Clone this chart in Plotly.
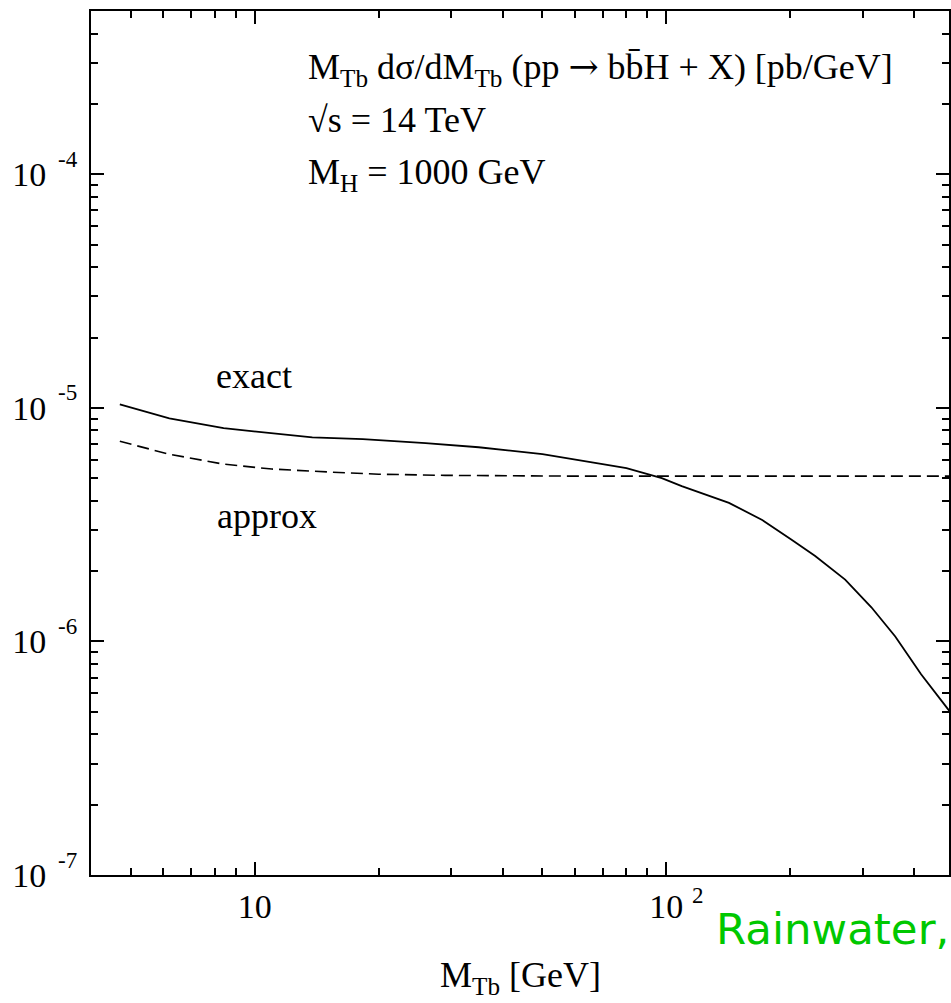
import plotly.graph_objects as go
import numpy as np

# ---- data ----
exact_x = [4.7, 6.2, 8.4, 10, 13.8, 18.3, 26, 35, 50, 70, 80, 97.5, 109, 142, 171,
           202, 230, 272, 315, 360, 416, 484, 500]
exact_y = [1.035e-5, 9.02e-6, 8.18e-6, 7.94e-6, 7.48e-6, 7.34e-6, 7.06e-6, 6.78e-6,
           6.33e-6, 5.74e-6, 5.52e-6, 5.00e-6, 4.62e-6, 3.92e-6, 3.31e-6, 2.72e-6,
           2.32e-6, 1.84e-6, 1.40e-6, 1.05e-6, 7.23e-7, 5.12e-7, 4.7e-7]

approx_x = [4.7, 6.2, 8.4, 11, 15.2, 20, 29, 40, 60, 100, 200, 500]
approx_y = [7.19e-6, 6.33e-6, 5.74e-6, 5.47e-6, 5.31e-6, 5.20e-6, 5.14e-6, 5.11e-6,
            5.10e-6, 5.10e-6, 5.10e-6, 5.10e-6]

x_tickvals = [10, 100]
x_ticktext = ["10", "10"]
x_tickexp = ["", "2"]
y_tickvals = [1e-7, 1e-6, 1e-5, 1e-4]
y_ticktext = ["10", "10", "10", "10"]
y_tickexp = ["-7", "-6", "-5", "-4"]

x_minor = [m * 10 ** e for e in range(0, 3) for m in range(2, 10)]
y_minor = [m * 10 ** e for e in range(-8, -3) for m in range(2, 10)]

SERIF = "Liberation Serif, Times New Roman, serif"
ARROW = "<span style='font-family:DejaVu Serif'>\u2192</span>"

fig = go.Figure()
fig.add_trace(go.Scatter(x=exact_x, y=exact_y, mode="lines",
                         line=dict(color="black", width=1.8), showlegend=False))
fig.add_trace(go.Scatter(x=approx_x, y=approx_y, mode="lines",
                         line=dict(color="black", width=1.6, dash="12px,6px"), showlegend=False))

W, H = 951, 1003
L, R, T, B = 91, 0, 11, 128
pw, ph = W - L - R, H - T - B

def px(xp):
    return (xp - L) / pw

def py(yp):
    return (H - B - yp) / ph

axis_common = dict(
    type="log", showgrid=False, zeroline=False, showline=True, linecolor="black",
    linewidth=2, ticks="inside", ticklen=13, tickwidth=1.5, tickcolor="black",
    mirror="allticks", tickmode="array",
    tickfont=dict(family=SERIF, size=34, color="black"),
)

fig.update_xaxes(**axis_common, range=[np.log10(4), np.log10(4) + pw / 412.5],
                 tickvals=x_tickvals, ticktext=x_ticktext,
                 minor=dict(tickmode="array", tickvals=x_minor, ticks="inside",
                            ticklen=7, tickwidth=1.5, tickcolor="black", showgrid=False))
fig.update_yaxes(**axis_common, range=[-7, np.log10(5e-4)],
                 tickvals=y_tickvals, ticktext=y_ticktext, ticklabelstandoff=36,
                 minor=dict(tickmode="array", tickvals=y_minor, ticks="inside",
                            ticklen=7, tickwidth=1.5, tickcolor="black", showgrid=False))

# exponents of the tick labels, placed next to each tick through the axis scales
for v, e in zip(y_tickvals, y_tickexp):
    fig.add_annotation(text=e, x=px(56), xref="paper", y=np.log10(v), yref="y",
                       yshift=15, xanchor="left", yanchor="middle", showarrow=False,
                       font=dict(family=SERIF, size=23, color="black"))
for v, e in zip(x_tickvals, x_tickexp):
    if e:
        fig.add_annotation(text=e, x=np.log10(v), xref="x", xshift=24, y=py(895), yref="paper",
                           xanchor="left", yanchor="middle", showarrow=False,
                           font=dict(family=SERIF, size=23, color="black"))

anns = [
    dict(text="M<sub>Tb</sub> d\u03c3/dM<sub>Tb</sub> (pp " + ARROW + " bb\u0304H + X) [pb/GeV]",
         x=px(306), y=py(69), xanchor="left", size=36),
    dict(text="\u221as = 14 TeV", x=px(306), y=py(120), xanchor="left", size=36),
    dict(text="M<sub>H</sub> = 1000 GeV", x=px(306), y=py(175), xanchor="left", size=36),
    dict(text="exact", x=px(214), y=py(376), xanchor="left", size=36),
    dict(text="approx", x=px(215), y=py(516), xanchor="left", size=36),
    dict(text="M<sub>Tb</sub> [GeV]", x=px(522), y=py(977), xanchor="center", size=36),
]
for a in anns:
    fig.add_annotation(text=a["text"], x=a["x"], y=a["y"], xref="paper", yref="paper",
                       xanchor=a["xanchor"], yanchor="middle", showarrow=False,
                       font=dict(family=SERIF, size=a["size"], color="black"))

fig.add_annotation(text="Rainwater,", x=px(715), y=py(929), xref="paper", yref="paper",
                   xanchor="left", yanchor="middle", showarrow=False,
                   font=dict(family="DejaVu Sans, sans-serif", size=43.5, color="#00c800"))

fig.update_layout(width=W, height=H, margin=dict(l=L, r=R, t=T, b=B),
                  paper_bgcolor="white", plot_bgcolor="white", showlegend=False)

fig.write_html("out.html")
